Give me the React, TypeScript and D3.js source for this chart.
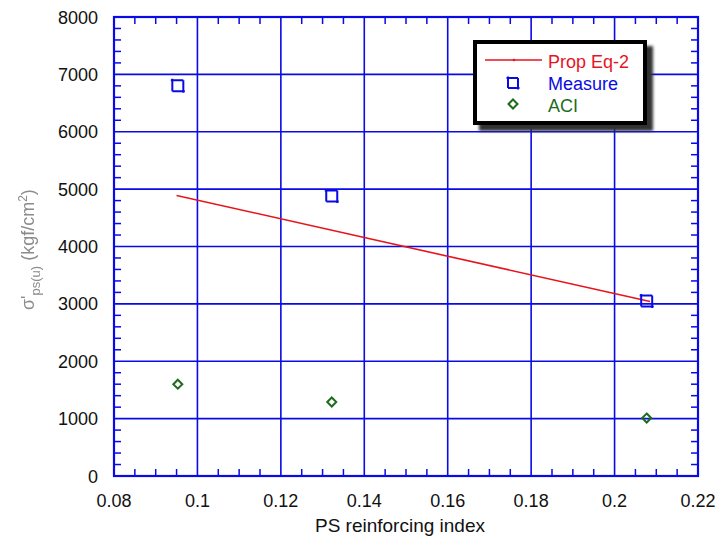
import React from "react";
import * as d3 from "d3";

// Reinforcing index vs. ultimate prestressing-steel stress
const measureX = [0.0953, 0.1322, 0.2077];
const measureY = [6800, 4880, 3050];
const aciX = [0.0953, 0.1322, 0.2077];
const aciY = [1600, 1290, 1010];
const propX = [0.095, 0.2085];
const propY = [4890, 3040];
const xTicks = [0.08, 0.1, 0.12, 0.14, 0.16, 0.18, 0.2, 0.22];
const yTicks = [0, 1000, 2000, 3000, 4000, 5000, 6000, 7000, 8000];
const legendLabels = ["Prop Eq-2", "Measure", "ACI"];

const W = 720;
const H = 544;
const left = 114;
const right = 698;
const top = 17;
const bottom = 476;

const BLUE = "#0a0ae6";
const RED = "#e6141e";
const GREEN = "#1d6b1d";
const FONT = "Liberation Sans, Arial, sans-serif";

export default function App() {
  const x = d3.scaleLinear().domain([0.08, 0.22]).range([left, right]);
  const y = d3.scaleLinear().domain([0, 8000]).range([bottom, top]);

  const xMinor = d3.range(0.08, 0.2201, 0.005).filter(
    (v) => !xTicks.some((t) => Math.abs(t - v) < 1e-6)
  );
  const yMinor = d3.range(0, 8001, 200).filter((v) => v % 1000 !== 0);

  const line = d3
    .line<number>()
    .x((_, i) => x(propX[i]))
    .y((d) => y(d));

  const sq = (cx: number, cy: number, s = 5.5) =>
    `M${cx - s - 1.5},${cy - s}H${cx + s}` +
    `M${cx + s},${cy - s}V${cy + s + 1.5}` +
    `M${cx + s + 1.5},${cy + s}H${cx - s}` +
    `M${cx - s},${cy + s}V${cy - s - 1.5}`;
  const dia = (cx: number, cy: number, s = 4.5) =>
    `M${cx},${cy - s}L${cx + s},${cy}L${cx},${cy + s}L${cx - s},${cy}Z`;

  const lgX = 473;
  const lgY = 40;
  const lgW = 174;
  const lgH = 85;

  return (
    <svg
      width={W}
      height={H}
      style={{ position: "absolute", left: 0, top: 0, background: "#fff" }}
      fontFamily={FONT}
    >
      <defs>
        <filter id="soft" x="-20%" y="-20%" width="140%" height="140%">
          <feGaussianBlur stdDeviation="0.6" />
        </filter>
        <filter id="shadow" x="-20%" y="-20%" width="140%" height="140%">
          <feGaussianBlur stdDeviation="1.5" />
        </filter>
      </defs>

      {/* grid */}
      {xTicks.slice(1, -1).map((t) => (
        <line key={"gx" + t} x1={x(t)} x2={x(t)} y1={top} y2={bottom} stroke={BLUE} strokeWidth={1.6} />
      ))}
      {yTicks.slice(1, -1).map((t) => (
        <line key={"gy" + t} x1={left} x2={right} y1={y(t)} y2={y(t)} stroke={BLUE} strokeWidth={1.6} />
      ))}

      {/* minor ticks, inward on all four sides */}
      {xMinor.map((t) => (
        <g key={"mx" + t} stroke={BLUE} strokeWidth={1.5}>
          <line x1={x(t)} x2={x(t)} y1={bottom} y2={bottom - 7} />
          <line x1={x(t)} x2={x(t)} y1={top} y2={top + 7} />
        </g>
      ))}
      {yMinor.map((t) => (
        <g key={"my" + t} stroke={BLUE} strokeWidth={1.5}>
          <line x1={left} x2={left + 7} y1={y(t)} y2={y(t)} />
          <line x1={right} x2={right - 7} y1={y(t)} y2={y(t)} />
        </g>
      ))}

      {/* frame */}
      <rect x={left} y={top} width={right - left} height={bottom - top} fill="none" stroke={BLUE} strokeWidth={2.2} />

      {/* tick labels */}
      {xTicks.map((t) => (
        <text key={"lx" + t} x={x(t)} y={507} fontSize={18} textAnchor="middle" fill="#111">
          {d3.format("~g")(t)}
        </text>
      ))}
      {yTicks.map((t) => (
        <text key={"ly" + t} x={98} y={y(t) + 6.5} fontSize={18} textAnchor="end" fill="#111">
          {t}
        </text>
      ))}

      {/* axis titles */}
      <text x={(left + right) / 2 - 6} y={532} fontSize={19} textAnchor="middle" fill="#111">
        PS reinforcing index
      </text>
      <g filter="url(#soft)">
        <text
          transform="translate(34,310) rotate(-90)"
          fontSize={18}
          fill="#8c8c8c"
        >
          <tspan>σ'</tspan>
          <tspan fontSize={13} dy={6}>ps(u)</tspan>
          <tspan dy={-6}> (kgf/cm</tspan>
          <tspan fontSize={12} dy={-7}>2</tspan>
          <tspan dy={7}>)</tspan>
        </text>
      </g>

      {/* data */}
      <path d={line(propY) || ""} fill="none" stroke={RED} strokeWidth={1.6} />
      {measureX.map((v, i) => (
        <path key={"m" + i} d={sq(x(v), y(measureY[i]))} fill="none" stroke={BLUE} strokeWidth={2} />
      ))}
      {aciX.map((v, i) => (
        <path key={"a" + i} d={dia(x(v), y(aciY[i]))} fill="none" stroke={GREEN} strokeWidth={2} />
      ))}

      {/* legend */}
      <rect x={lgX + 6} y={lgY + 6} width={lgW} height={lgH} fill="#333" filter="url(#shadow)" />
      <rect x={lgX + 2} y={lgY + 2} width={lgW - 4} height={lgH - 4} fill="#fff" stroke="#000" strokeWidth={4} />
      <line x1={485} x2={542} y1={60} y2={60} stroke={RED} strokeWidth={1.6} />
      <circle cx={514} cy={60} r={1.3} fill={RED} />
      <path d={sq(513, 83, 5)} fill="none" stroke={BLUE} strokeWidth={2} />
      <path d={dia(513, 104, 4.5)} fill="none" stroke={GREEN} strokeWidth={2} />
      {legendLabels.map((s, i) => (
        <text
          key={s}
          x={548}
          y={68 + i * 22}
          fontSize={18}
          fill={[RED, BLUE, GREEN][i]}
        >
          {s}
        </text>
      ))}
    </svg>
  );
}
